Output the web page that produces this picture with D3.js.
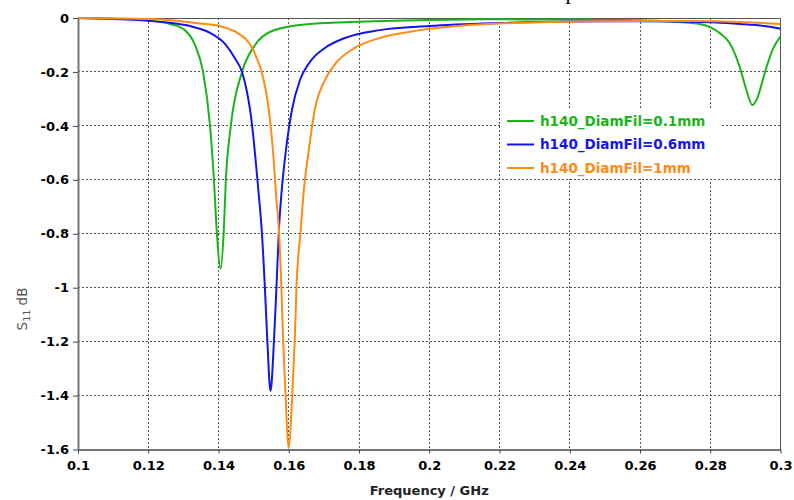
<!DOCTYPE html>
<html>
<head>
<meta charset="utf-8">
<script src="https://cdn.jsdelivr.net/npm/d3@7/dist/d3.min.js"></script>
<style>
  html, body { margin: 0; padding: 0; background: #fff; }
  svg { display: block; }
</style>
</head>
<body>
<svg id="chart" width="794" height="500"></svg>
<script>
// ---------------- DATA ----------------
const seriesNames = ["h140_DiamFil=0.1mm", "h140_DiamFil=0.6mm", "h140_DiamFil=1mm"];
const seriesColors = ["#19b419", "#1414f0", "#ff8a14"];

const greenFreq = [0.1, 0.112, 0.1205, 0.1262, 0.1304, 0.1333, 0.1356, 0.1376, 0.1387, 0.1395, 0.1406,
  0.1415, 0.1421, 0.1435, 0.1467, 0.1504, 0.1546, 0.1632, 0.1774, 0.2, 0.22, 0.24, 0.26, 0.2713,
  0.277, 0.2798, 0.2827, 0.2855, 0.2884, 0.2903, 0.292, 0.2935, 0.2955, 0.2977, 0.3];
const greenS11 = [0, -0.004, -0.01, -0.022, -0.045, -0.1, -0.2, -0.4, -0.6, -0.79, -0.93,
  -0.79, -0.6, -0.4, -0.2, -0.1, -0.052, -0.026, -0.015, -0.007, -0.005, -0.006, -0.008, -0.015,
  -0.022, -0.033, -0.056, -0.093, -0.182, -0.267, -0.323, -0.293, -0.204, -0.119, -0.068];

const blueFreq = [0.1, 0.1148, 0.1262, 0.1319, 0.1376, 0.1418, 0.1447, 0.1467, 0.1482, 0.1492, 0.15,
  0.1508, 0.1515, 0.1523, 0.1532, 0.1539, 0.1548, 0.1558, 0.1565, 0.1572, 0.158, 0.1592, 0.1609,
  0.1632, 0.166, 0.1703, 0.176, 0.1859, 0.2, 0.22, 0.24, 0.26, 0.277, 0.2884, 0.2955, 0.3];
const blueS11 = [0, -0.006, -0.018, -0.03, -0.055, -0.095, -0.15, -0.2, -0.28, -0.36, -0.45,
  -0.56, -0.66, -0.786, -0.998, -1.195, -1.383, -1.195, -0.998, -0.786, -0.638, -0.49, -0.341,
  -0.23, -0.163, -0.111, -0.074, -0.045, -0.03, -0.019, -0.013, -0.012, -0.015, -0.022, -0.03, -0.04];

const orangeFreq = [0.1, 0.1205, 0.1347, 0.1404, 0.1447, 0.1475, 0.1498, 0.1512, 0.1523, 0.1535, 0.1545,
  0.1555, 0.1565, 0.1572, 0.1579, 0.1584, 0.1591, 0.1599, 0.161, 0.1617, 0.1622, 0.1634, 0.1643,
  0.1657, 0.1674, 0.1703, 0.1737, 0.1788, 0.1859, 0.1973, 0.2115, 0.2343, 0.26, 0.277, 0.2884, 0.3];
const orangeS11 = [0, -0.004, -0.02, -0.03, -0.05, -0.075, -0.115, -0.16, -0.2, -0.27, -0.36,
  -0.49, -0.675, -0.786, -0.998, -1.195, -1.399, -1.595, -1.399, -1.195, -0.998, -0.786, -0.638,
  -0.49, -0.341, -0.23, -0.163, -0.111, -0.074, -0.045, -0.026, -0.015, -0.011, -0.011, -0.015, -0.022];

const xTickValues = [0.1, 0.12, 0.14, 0.16, 0.18, 0.2, 0.22, 0.24, 0.26, 0.28, 0.3];
const xTickLabels = ["0.1", "0.12", "0.14", "0.16", "0.18", "0.2", "0.22", "0.24", "0.26", "0.28", "0.3"];
const yTickValues = [0, -0.2, -0.4, -0.6, -0.8, -1, -1.2, -1.4, -1.6];
const yTickLabels = ["0", "-0.2", "-0.4", "-0.6", "-0.8", "-1", "-1.2", "-1.4", "-1.6"];

const xTitle = "Frequency / GHz";
const titleText = "S-parameters";

// ---------------- LAYOUT ----------------
const svg = d3.select("#chart");
const pL = 78, pR = 780.5, pT = 18, pB = 449.5;
const x = d3.scaleLinear().domain([0.1, 0.3]).range([pL, pR]);
const y = d3.scaleLinear().domain([0, -1.6]).range([pT, pB]);

const tickFont = "'DejaVu Sans', Verdana, sans-serif";

// partial (cut-off) title at the very top, as in the reference
svg.append("text")
  .attr("x", 546).attr("y", -1)
  .attr("font-family", "'Liberation Serif', serif")
  .attr("font-size", 22)
  .attr("fill", "#000")
  .text(titleText);

// grid
const grid = svg.append("g");
grid.selectAll("line.vg").data(xTickValues.slice(1, -1)).join("line")
  .attr("x1", d => x(d)).attr("x2", d => x(d))
  .attr("y1", pT).attr("y2", pB)
  .attr("stroke", "#555").attr("stroke-width", 1).attr("stroke-dasharray", "2,2")
  .attr("shape-rendering", "crispEdges");
grid.selectAll("line.hg").data(yTickValues.slice(1, -1)).join("line")
  .attr("x1", pL).attr("x2", pR)
  .attr("y1", d => y(d)).attr("y2", d => y(d))
  .attr("stroke", "#555").attr("stroke-width", 1).attr("stroke-dasharray", "2,2")
  .attr("shape-rendering", "crispEdges");

// legend background (covers grid)
svg.append("rect")
  .attr("x", 500).attr("y", 108).attr("width", 222).attr("height", 71)
  .attr("fill", "#fff");

// frame
svg.append("rect")
  .attr("x", pL).attr("y", pT).attr("width", pR - pL).attr("height", pB - pT)
  .attr("fill", "none").attr("stroke", "#555").attr("stroke-width", 1)
  .attr("shape-rendering", "crispEdges");

// curves
const line = d3.line().x(d => x(d[0])).y(d => y(d[1])).curve(d3.curveMonotoneX);
const seriesData = [
  d3.zip(greenFreq, greenS11),
  d3.zip(blueFreq, blueS11),
  d3.zip(orangeFreq, orangeS11)
];
svg.append("defs").append("clipPath").attr("id", "clip")
  .append("rect").attr("x", pL).attr("y", pT - 2).attr("width", pR - pL).attr("height", pB - pT + 4);
const curves = svg.append("g").attr("clip-path", "url(#clip)");
seriesData.forEach((data, i) => {
  curves.append("path")
    .datum(data)
    .attr("d", line)
    .attr("fill", "none")
    .attr("stroke", seriesColors[i])
    .attr("stroke-width", 2)
    .attr("stroke-linejoin", "round");
});

// axes
const xAxis = d3.axisBottom(x).tickValues(xTickValues)
  .tickFormat((d, i) => xTickLabels[i]).tickSize(4).tickSizeOuter(0);
const gx = svg.append("g").attr("transform", `translate(0,${pB})`).call(xAxis);
gx.select(".domain").attr("stroke", "#777").attr("stroke-width", 2);
gx.selectAll(".tick line").attr("stroke", "#444");
gx.selectAll(".tick text")
  .attr("font-family", tickFont).attr("font-weight", "bold").attr("font-size", 13)
  .attr("fill", "#000").attr("dy", "1.05em");

const yAxis = d3.axisLeft(y).tickValues(yTickValues)
  .tickFormat((d, i) => yTickLabels[i]).tickSize(5).tickSizeOuter(0);
const gy = svg.append("g").attr("transform", `translate(${pL},0)`).call(yAxis);
gy.select(".domain").attr("stroke", "#777").attr("stroke-width", 2);
gy.selectAll(".tick line").attr("stroke", "#444");
gy.selectAll(".tick text")
  .attr("font-family", tickFont).attr("font-weight", "bold").attr("font-size", 13)
  .attr("fill", "#000").attr("x", -9);

// axis titles
svg.append("text")
  .attr("x", (pL + pR) / 2).attr("y", 495)
  .attr("text-anchor", "middle")
  .attr("font-family", tickFont).attr("font-weight", "bold").attr("font-size", 13)
  .attr("fill", "#222")
  .text(xTitle);

const yt = svg.append("text")
  .attr("transform", "translate(27,309) rotate(-90)")
  .attr("text-anchor", "middle")
  .attr("font-family", tickFont).attr("font-size", 13.5)
  .attr("fill", "#555");
yt.append("tspan").text("S");
yt.append("tspan").attr("font-size", 9.5).attr("dy", 3).text("11");
yt.append("tspan").attr("dy", -3).text(" dB");

// legend
const legendY = [121, 144.5, 168];
const lg = svg.append("g");
seriesNames.forEach((name, i) => {
  lg.append("line")
    .attr("x1", 507).attr("x2", 534)
    .attr("y1", legendY[i]).attr("y2", legendY[i])
    .attr("stroke", seriesColors[i]).attr("stroke-width", 2);
  lg.append("text")
    .attr("x", 540).attr("y", legendY[i])
    .attr("dy", "0.36em")
    .attr("font-family", tickFont).attr("font-weight", "bold").attr("font-size", 13.5)
    .attr("fill", seriesColors[i])
    .text(name);
});
</script>
</body>
</html>
